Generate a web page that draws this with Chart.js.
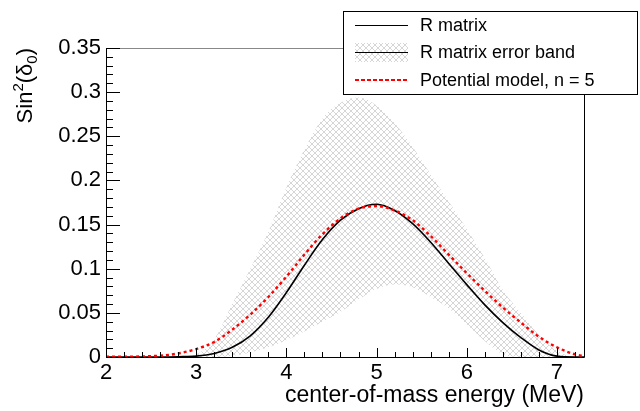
<!DOCTYPE html>
<html>
<head>
<meta charset="utf-8">
<title>Sin2(delta0)</title>
<script src="https://cdn.jsdelivr.net/npm/chart.js@4.4.1/dist/chart.umd.min.js"></script>
<style>
  html, body { margin: 0; padding: 0; background: #fff; }
  #contenedor { width: 640px; height: 411px; position: relative; }
</style>
</head>
<body>
<div id="contenedor"><canvas id="grafico"></canvas></div>
<script>
// Energia en el centro de masa (MeV)
var energias = [2.0, 2.2, 2.4, 2.6, 2.8, 3.0, 3.2, 3.4, 3.6, 3.8, 4.0, 4.2, 4.4, 4.6,
    4.8, 5.0, 5.2, 5.4, 5.6, 5.8, 6.0, 6.2, 6.4, 6.6, 6.8, 7.0, 7.2, 7.3];

// Curva R matrix (linea negra)
var rMatrix = [0, 0, 0, 0, 0.0003, 0.001, 0.004, 0.011, 0.024, 0.045, 0.073, 0.104, 0.133, 0.155,
    0.168, 0.173, 0.166, 0.151, 0.130, 0.106, 0.082, 0.059, 0.039, 0.022, 0.008, 0.001, 0, 0];

// Banda de error de R matrix (borde superior e inferior)
var bandaSuperior = [0, 0, 0, 0, 0, 0.003, 0.020, 0.060, 0.100, 0.142, 0.192, 0.235, 0.270, 0.288,
    0.294, 0.285, 0.265, 0.238, 0.207, 0.176, 0.145, 0.112, 0.076, 0.050, 0.025, 0.007, 0, 0];
var bandaInferior = [0, 0, 0, 0, 0, 0, 0, 0.001, 0.005, 0.011, 0.019, 0.029, 0.040, 0.051,
    0.065, 0.077, 0.082, 0.079, 0.068, 0.055, 0.037, 0.018, 0.003, 0, 0, 0, 0, 0];

// Modelo de potencial, n = 5 (linea roja discontinua)
var potencial = [0.0002, 0.0003, 0.0006, 0.0015, 0.004, 0.009, 0.017, 0.031, 0.048, 0.068, 0.091, 0.116, 0.139, 0.157,
    0.168, 0.171, 0.166, 0.155, 0.137, 0.116, 0.095, 0.075, 0.056, 0.039, 0.023, 0.011, 0.003, 0.001];

// Etiquetas de los ejes
var ticksX = [2, 3, 4, 5, 6, 7];
var ticksY = [0, 0.05, 0.1, 0.15, 0.2, 0.25, 0.3, 0.35];
var textosLeyenda = ['R matrix', 'R matrix error band', 'Potential model, n = 5'];

var fuente = '"Liberation Sans", Arial, Helvetica, sans-serif';
Chart.defaults.font.family = fuente;
Chart.defaults.color = '#000';

// Patron de rayado cruzado para la banda
function crearRayado() {
    var lienzo = document.createElement('canvas');
    lienzo.width = 6;
    lienzo.height = 6;
    var c = lienzo.getContext('2d');
    c.fillStyle = '#d6d6d6';
    for (var i = 0; i < 6; i++) {
        c.fillRect(i, i, 1, 1);
        c.fillRect(i, 5 - i, 1, 1);
    }
    return c.createPattern(lienzo, 'repeat');
}
var rayado = crearRayado();

function puntos(valores) {
    return energias.map(function (e, i) { return { x: e, y: valores[i] }; });
}

// Marco, marcas interiores, titulos y leyenda al estilo ROOT
var marcoPlugin = {
    id: 'marco',
    afterDraw: function (chart) {
        var ctx = chart.ctx;
        var a = chart.chartArea;
        var ex = chart.scales.x;
        var ey = chart.scales.y;
        ctx.save();
        ctx.lineWidth = 1;

        // marco
        ctx.strokeStyle = '#888';
        ctx.beginPath();
        ctx.moveTo(a.left, a.top + 0.5);
        ctx.lineTo(a.right, a.top + 0.5);
        ctx.stroke();
        ctx.strokeStyle = '#000';
        ctx.beginPath();
        ctx.moveTo(a.left + 0.5, a.top);
        ctx.lineTo(a.left + 0.5, a.bottom + 0.5);
        ctx.lineTo(a.right + 0.5, a.bottom + 0.5);
        ctx.lineTo(a.right + 0.5, a.top);
        ctx.stroke();

        // marcas del eje x (cada 0.2, mayores cada 1)
        ctx.beginPath();
        for (var i = 0; i <= 26; i++) {
            var px = Math.round(ex.getPixelForValue(2 + i * 0.2)) + 0.5;
            var largo = (i % 5 === 0) ? 9 : 5;
            ctx.moveTo(px, a.bottom);
            ctx.lineTo(px, a.bottom - largo);
        }
        // marcas del eje y (cada 0.01, mayores cada 0.05)
        for (var j = 0; j <= 35; j++) {
            var py = Math.round(ey.getPixelForValue(j * 0.01)) + 0.5;
            var largoY = (j % 5 === 0) ? 14 : 7;
            ctx.moveTo(a.left, py);
            ctx.lineTo(a.left + largoY, py);
        }
        ctx.stroke();

        // titulo del eje x
        ctx.fillStyle = '#000';
        ctx.font = '23px ' + fuente;
        ctx.textAlign = 'right';
        ctx.textBaseline = 'alphabetic';
        ctx.fillText('center-of-mass energy (MeV)', a.right, 402);

        // titulo del eje y: Sin^2(delta_0)
        var piezas = [['Sin', 22, 0], ['2', 15, -9], ['(\u03b4', 22, 0], ['0', 15, 5], [')', 22, 0]];
        var total = 0;
        piezas.forEach(function (p) {
            ctx.font = p[1] + 'px ' + fuente;
            total += ctx.measureText(p[0]).width;
        });
        ctx.translate(32, 48);
        ctx.rotate(-Math.PI / 2);
        ctx.textAlign = 'left';
        var pos = -total;
        piezas.forEach(function (p) {
            ctx.font = p[1] + 'px ' + fuente;
            ctx.fillText(p[0], pos, p[2]);
            pos += ctx.measureText(p[0]).width;
        });
        ctx.setTransform(1, 0, 0, 1, 0, 0);

        // leyenda
        ctx.fillStyle = '#fff';
        ctx.fillRect(343, 11, 294, 84);
        ctx.strokeStyle = '#000';
        ctx.lineWidth = 1;
        ctx.strokeRect(343.5, 11.5, 294, 83);
        var filas = [25, 52, 80];
        ctx.beginPath();
        ctx.moveTo(355, filas[0] + 0.5);
        ctx.lineTo(408, filas[0] + 0.5);
        ctx.stroke();
        ctx.fillStyle = rayado;
        ctx.fillRect(355, 43, 53, 19);
        ctx.beginPath();
        ctx.moveTo(355, filas[1] + 0.5);
        ctx.lineTo(408, filas[1] + 0.5);
        ctx.stroke();
        ctx.strokeStyle = '#ff0000';
        ctx.lineWidth = 2;
        ctx.setLineDash([4, 2]);
        ctx.beginPath();
        ctx.moveTo(355, filas[2]);
        ctx.lineTo(408, filas[2]);
        ctx.stroke();
        ctx.setLineDash([]);
        ctx.fillStyle = '#000';
        ctx.font = '18px ' + fuente;
        ctx.textAlign = 'left';
        ctx.textBaseline = 'middle';
        textosLeyenda.forEach(function (t, k) {
            ctx.fillText(t, 420, filas[k] + 1);
        });
        ctx.restore();
    }
};

var grafico = new Chart(document.getElementById('grafico'), {
    type: 'line',
    data: {
        datasets: [
            {
                label: 'banda superior',
                data: puntos(bandaSuperior),
                borderWidth: 0,
                borderColor: 'rgba(0,0,0,0)',
                backgroundColor: rayado,
                fill: '+1',
                order: 3
            },
            {
                label: 'banda inferior',
                data: puntos(bandaInferior),
                borderWidth: 0,
                borderColor: 'rgba(0,0,0,0)',
                fill: false,
                order: 2
            },
            {
                label: textosLeyenda[0],
                data: puntos(rMatrix),
                borderColor: '#000',
                borderWidth: 1.6,
                fill: false,
                order: 1
            },
            {
                label: textosLeyenda[2],
                data: puntos(potencial),
                borderColor: '#ff0000',
                borderWidth: 2.4,
                borderDash: [3, 3],
                fill: false,
                order: 0
            }
        ]
    },
    options: {
        responsive: true,
        maintainAspectRatio: false,
        animation: false,
        layout: { padding: { left: 0, right: 56, top: 48, bottom: 0 } },
        elements: {
            point: { radius: 0 },
            line: { cubicInterpolationMode: 'monotone' }
        },
        plugins: {
            legend: { display: false },
            tooltip: { enabled: false }
        },
        scales: {
            x: {
                type: 'linear',
                min: 2,
                max: 7.3,
                grid: { display: false, drawTicks: false },
                border: { display: false },
                afterFit: function (escala) { escala.height = 54; },
                afterBuildTicks: function (escala) {
                    escala.ticks = ticksX.map(function (v) { return { value: v }; });
                },
                ticks: {
                    autoSkip: false,
                    maxRotation: 0,
                    padding: 3,
                    font: { size: 22 },
                    callback: function (v) { return String(v); }
                }
            },
            y: {
                min: 0,
                max: 0.35,
                grid: { display: false, drawTicks: false },
                border: { display: false },
                afterFit: function (escala) { escala.width = 106; },
                afterBuildTicks: function (escala) {
                    escala.ticks = ticksY.map(function (v) { return { value: v }; });
                },
                ticks: {
                    autoSkip: false,
                    padding: 5,
                    font: { size: 22 },
                    callback: function (v) { return String(Math.round(v * 100) / 100); }
                }
            }
        }
    },
    plugins: [marcoPlugin]
});
</script>
</body>
</html>
